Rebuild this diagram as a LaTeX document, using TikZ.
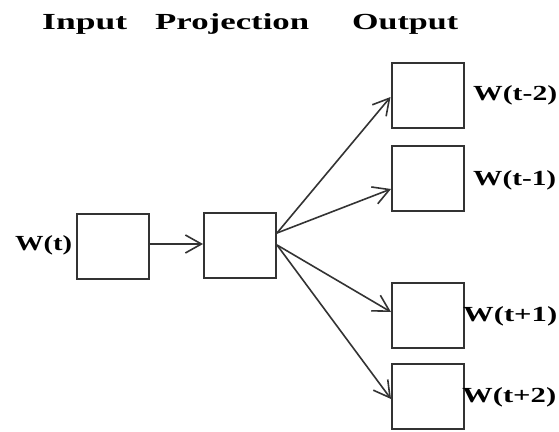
\documentclass[tikz,border=0pt]{standalone}
\usepackage{fontspec}
\setmainfont{Liberation Serif}
\usepackage{graphicx}
\usetikzlibrary{arrows.meta}
% stretch a piece of text horizontally to a given width
\newcommand{\widetext}[2]{\resizebox{#1}{\height}{#2}}
\definecolor{edge}{HTML}{333333}
\begin{document}
\begin{tikzpicture}[x=1pt,y=-1pt,
  cell/.style={draw=edge,line width=2pt,fill=white,inner sep=0pt,
    minimum width=72pt,minimum height=65pt},
  link/.style={draw=edge,line width=1.6pt,
    -{Straight Barb[length=16pt,width=18pt,line width=1.6pt]}},
  head/.style={inner sep=0pt,anchor=base west,font=\fontsize{23}{23}\selectfont\bfseries},
  word/.style={inner sep=0pt,anchor=west,font=\fontsize{21.5}{21.5}\selectfont\bfseries}]
\useasboundingbox[fill=white] (0,0) rectangle (559,431);

% column headings
\node[head] (hin) at (42,29) {\widetext{85pt}{Input}};
\node[head] (hproj) at (155,29) {\widetext{154pt}{Projection}};
\node[head] (hout) at (352,29) {\widetext{106pt}{Output}};

% boxes
\node[cell] (in) at (113,246.5) {};
\node[cell] (proj) at (240,245.5) {};
\node[cell] (o1) at (427.5,95.5) {};
\node[cell] (o2) at (428,178) {};
\node[cell] (o3) at (428,315.5) {};
\node[cell] (o4) at (428,396) {};

% word labels
\node[word] (lin) at (15,245) {\widetext{57pt}{W(t)}};
\node[word] (l1) at (473,95) {\widetext{84pt}{W(t-2)}};
\node[word] (l2) at (473,180) {\widetext{83pt}{W(t-1)}};
\node[word] (l3) at (463,316) {\widetext{94pt}{W(t+1)}};
\node[word] (l4) at (462,397) {\widetext{94pt}{W(t+2)}};

% connections
\coordinate (up) at ([yshift=12.5pt]proj.east);
\coordinate (dn) at ([yshift=0.5pt]proj.east);
\draw[link] ([yshift=2.5pt]in.east) -- ([yshift=1.5pt]proj.west);
\draw[link] (up) -- ([yshift=-1.5pt]o1.west);
\draw[link] (up) -- ([yshift=-11pt]o2.west);
\draw[link] (dn) -- ([yshift=3.5pt]o3.west);
\draw[link] (dn) -- ([yshift=-3pt]o4.west);
\end{tikzpicture}
\end{document}
